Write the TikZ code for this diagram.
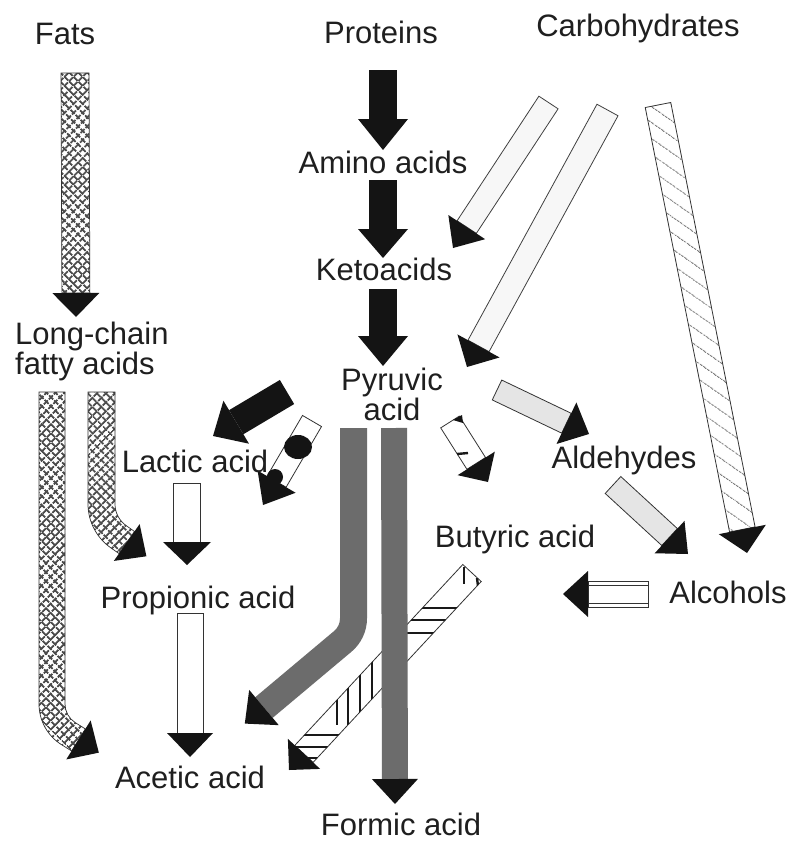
\documentclass[tikz,border=0pt]{standalone}
\usepackage{fontspec}
\setmainfont{Liberation Sans}
\usetikzlibrary{calc,patterns.meta}
\definecolor{greyc}{RGB}{108,108,108}
% #1 shaft style, #2 start, #3 tip, #4 shaft half width, #5 head half width, #6 head length
\newcommand{\sarrow}[6]{%
  \coordinate (sA) at (#2);
  \coordinate (sT) at (#3);
  \coordinate (sH) at ($(sT)!#6!(sA)$);
  \path[#1] ($(sA)!#4!90:(sT)$) -- ($(sH)!#4!-90:(sA)$) -- ($(sH)!#4!90:(sA)$) -- ($(sA)!#4!-90:(sT)$) -- cycle;
  \fill[headc] ($(sH)!#5!90:(sA)$) -- (sT) -- ($(sH)!#5!-90:(sA)$) -- cycle;
}
% head from base midpoint #1, heading #2, half width #3, length #4
\newcommand{\headat}[4]{%
  \fill[headc] ($(#1)+(#2+90:#3)$) -- ($(#1)+(#2:#4)$) -- ($(#1)+(#2-90:#3)$) -- cycle;
}
\begin{document}
\begin{tikzpicture}[x=1pt,y=-1pt,
  lbl/.style={font=\fontsize{31}{31}\selectfont, text=black!88, inner sep=0pt, anchor=base},
  headc/.style={fill=black!92},
  blackshaft/.style={fill=black!92},
  greyshaft/.style={fill=greyc},
  whiteshaft/.style={fill=white, draw=black!80, line width=0.8pt},
  lightshaft/.style={fill=black!10, draw=black!80, line width=0.8pt},
  paleshaft/.style={fill=black!3, draw=black!75, line width=0.8pt},
  hatchshaft/.style={preaction={fill=white}, pattern={Lines[angle=-35,distance=13pt,line width=0.7pt]}, pattern color=black!80, draw=black!80, line width=0.8pt},
  xshaft/.style={preaction={fill=white}, preaction={pattern={Lines[angle=45,distance=6.5pt,line width=2pt]}, pattern color=black!70}, pattern={Lines[angle=-45,distance=6.5pt,line width=2pt]}, pattern color=black!70, draw=black!80, line width=0.7pt},
  stroke/.style={line width=2.4pt, black!90}
]
\useasboundingbox (0,0) rectangle (795,843);
\fill[white] (0,0) rectangle (795,843);

% ---- proteins chain (black) ----
\sarrow{blackshaft}{383,70}{383,150}{14pt}{25pt}{31pt}
\sarrow{blackshaft}{383,180}{383,258}{14pt}{25pt}{29pt}
\sarrow{blackshaft}{383,289}{383,366}{14pt}{25pt}{30pt}

% ---- carbohydrates ----
\sarrow{paleshaft}{548.5,102.5}{453,248}{11.5pt}{22pt}{25pt}
\sarrow{paleshaft}{607.5,110}{467,367}{12pt}{24pt}{24pt}
\sarrow{hatchshaft}{658,105}{747,553}{13pt}{24pt}{24pt}

% ---- fats ----
\sarrow{xshaft}{75,73}{76,317}{14pt}{23.5pt}{24pt}

% long-chain -> propionic (bent)
\path[xshaft] (88,392) -- (88,504) arc[start angle=180,end angle=125,radius=53.5]
  -- ++(35:10) -- ++(305:27) -- ++(215:10) arc[start angle=125,end angle=180,radius=26.5]
  -- (115,392) -- cycle;
\coordinate (M1) at ($(141.5,504)+(125:40)+(35:10)$);
\headat{M1}{35}{22.5}{24}

% long-chain -> acetic (bent)
\path[xshaft] (39,392) -- (39,704) arc[start angle=180,end angle=122,radius=48]
  -- ++(32:11.8) -- ++(302:26) -- ++(212:11.8) arc[start angle=122,end angle=180,radius=22]
  -- (65,392) -- cycle;
\coordinate (M2) at ($(87,704)+(122:35)+(32:11.8)$);
\headat{M2}{32}{23}{24}

% ---- lactic / propionic / acetic ----
\sarrow{whiteshaft}{187,483}{187,565}{13.5pt}{24pt}{23pt}
\sarrow{whiteshaft}{190,613}{190,757}{13pt}{23pt}{24pt}

% ---- pyruvic -> lactic ----
\sarrow{blackshaft}{287,392}{213,436}{14pt}{25pt}{27pt}
\sarrow{whiteshaft}{312,421}{263,505}{11pt}{22pt}{27pt}
\fill[black!92] (298,447) ellipse[x radius=14pt, y radius=12pt];
\fill[black!92] (275,477) circle[radius=8pt];

% ---- pyruvic -> butyric ----
\sarrow{whiteshaft}{450,422}{488,482}{11pt}{22pt}{22pt}
\draw[stroke] (457,454) -- (468,453);
\fill[black!92] (453,420) -- (462,415) -- (463,423) -- cycle;

% ---- pyruvic -> aldehydes -> alcohols ----
\sarrow{lightshaft}{497,390}{589,434}{11pt}{23pt}{25pt}
\sarrow{lightshaft}{613,485}{688,554}{11.5pt}{22pt}{25pt}

% ---- alcohols -> left ----
\sarrow{whiteshaft}{648,594}{563,594}{13pt}{23pt}{25pt}
\draw[black!80, line width=0.8pt] (589,585) -- (648,585);
\draw[black!80, line width=0.8pt] (589,603) -- (648,603);

% ---- butyric -> acetic (partly hatched) ----
\path[whiteshaft] (481.2,581.5) -- (313.1,762.4) -- (294.8,745.4) -- (462.8,564.5) -- cycle;
\begin{scope}
  \clip (481.2,581.5) -- (313.1,762.4) -- (294.8,745.4) -- (462.8,564.5) -- cycle;
  \draw[stroke] (464,567) -- (464,584);
  \draw[stroke] (477,578) -- (478,586);
  \foreach \yy in {608,620,633} \draw[stroke] (400,\yy) -- (500,\yy);
  \foreach \xx in {337,348,360,372} \draw[stroke] (\xx,655) -- (\xx,725);
  \foreach \yy in {735,747,758} \draw[stroke] (270,\yy) -- (360,\yy);
\end{scope}
\fill[headc] (320.1,768.9) -- (289,770) -- (287.9,738.9) -- cycle;

% ---- pyruvic -> formic / acetic (grey) ----
\sarrow{greyshaft}{394,428}{395,804}{13pt}{23pt}{25pt}
\path[greyshaft] (340,428) -- (340,618.4) arc[start angle=0,end angle=50,radius=16.5]
  -- ++(140:102.9) -- ++(50:27) -- ++(320:102.9) arc[start angle=50,end angle=0,radius=43.5]
  -- (367,428) -- cycle;
\coordinate (M3) at ($(323.5,618.4)+(50:30)+(140:102.9)$);
\headat{M3}{140}{23}{25}

% ---- labels ----
\node[lbl] (fats) at (65,45) {Fats};
\node[lbl] (proteins) at (381,44) {Proteins};
\node[lbl] (carbs) at (638,37) {Carbohydrates};
\node[lbl] (amino) at (383,173) {Amino acids};
\node[lbl] (keto) at (384,280) {Ketoacids};
\node[lbl] (pyr1) at (392,390) {Pyruvic};
\node[lbl] (pyr2) at (392,420) {acid};
\node[lbl, anchor=base west] (lc1) at (15,344) {Long-chain};
\node[lbl, anchor=base west] (lc2) at (15,374) {fatty acids};
\node[lbl] (lactic) at (195,472) {Lactic acid};
\node[lbl] (propionic) at (198,608) {Propionic acid};
\node[lbl] (acetic) at (190,788) {Acetic acid};
\node[lbl] (formic) at (401,835) {Formic acid};
\node[lbl] (butyric) at (515,547) {Butyric acid};
\node[lbl] (aldehydes) at (624,468) {Aldehydes};
\node[lbl] (alcohols) at (728,603) {Alcohols};
\end{tikzpicture}
\end{document}
